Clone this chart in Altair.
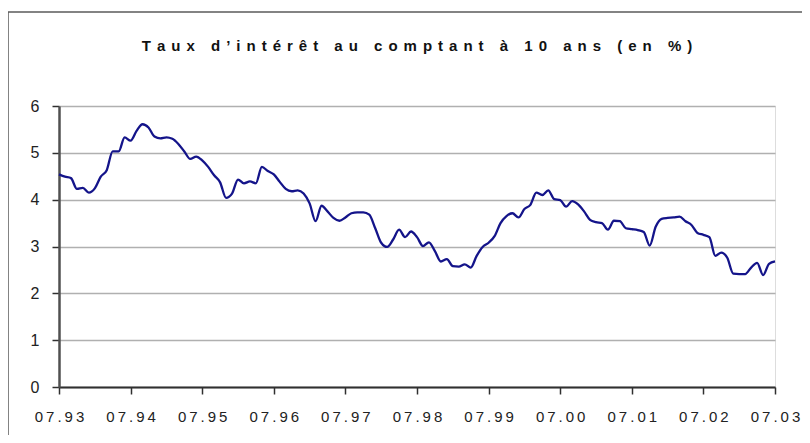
import altair as alt
import pandas as pd

# Monthly 10-year spot rate, July 1993 .. July 2003 (121 months)
values = [
    4.54, 4.49, 4.46, 4.23, 4.25, 4.15, 4.24, 4.49, 4.63, 5.03, 5.03, 5.33,
    5.26, 5.47, 5.61, 5.54, 5.35, 5.31, 5.33, 5.30, 5.19, 5.03, 4.87, 4.92,
    4.84, 4.70, 4.52, 4.37, 4.04, 4.13, 4.43, 4.35, 4.39, 4.35, 4.70, 4.61,
    4.54, 4.38, 4.23, 4.18, 4.20, 4.13, 3.92, 3.54, 3.87, 3.75, 3.61, 3.55,
    3.62, 3.71, 3.73, 3.73, 3.68, 3.39, 3.08, 2.99, 3.15, 3.36, 3.20, 3.32,
    3.20, 3.01, 3.09, 2.90, 2.68, 2.73, 2.58, 2.57, 2.62, 2.55, 2.80, 2.99,
    3.08, 3.22, 3.50, 3.65, 3.71, 3.62, 3.80, 3.89, 4.15, 4.10, 4.20, 4.01,
    3.99, 3.85, 3.97, 3.90, 3.75, 3.57, 3.52, 3.50, 3.36, 3.55, 3.54, 3.39,
    3.37, 3.35, 3.31, 3.02, 3.42, 3.59, 3.61, 3.62, 3.64, 3.54, 3.46, 3.29,
    3.25, 3.20, 2.80, 2.87, 2.76, 2.42, 2.41, 2.41, 2.55, 2.65, 2.39, 2.63,
    2.68,
]
months = list(range(len(values)))
tick_labels = ["07.93", "07.94", "07.95", "07.96", "07.97", "07.98",
               "07.99", "07.00", "07.01", "07.02", "07.03"]
y_ticks = [0, 1, 2, 3, 4, 5, 6]
title_text = "Taux d\u2019intérêt au comptant à 10 ans (en %)"

FONT = "Liberation Sans, Arial, sans-serif"


def spaced(s, sp):
    return sp.join("\u00a0" if c == " " else c for c in s)


label_arr = "[" + ",".join("'" + spaced(t, "\u2009") + "'" for t in tick_labels) + "]"
label_expr = label_arr + "[round(datum.value / 12)]"

df = pd.DataFrame({"m": months, "v": values})

W, H = 716, 281

line = alt.Chart(df).mark_line(
    color="#14148a", strokeWidth=2.3, interpolate="monotone"
).encode(
    x=alt.X("m:Q", scale=alt.Scale(domain=[0, 120], nice=False, zero=False),
            axis=alt.Axis(values=[i * 12 for i in range(11)], labelExpr=label_expr,
                          title=None, grid=False, domainColor="#303030",
                          domainWidth=2, tickColor="#303030", tickWidth=1.5,
                          tickSize=7, labelPadding=15, labelFont=FONT,
                          labelFontSize=15, labelColor="#222222",
                          labelOverlap=False, labelFlush=False)),
    y=alt.Y("v:Q", scale=alt.Scale(domain=[0, 6], nice=False),
            axis=alt.Axis(values=y_ticks, title=None, grid=True,
                          gridColor="#b0b0b0", gridWidth=1.5,
                          domainColor="#505050", domainWidth=2.5,
                          tickColor="#303030", tickWidth=1.5, tickSize=7,
                          labelPadding=13, labelFont=FONT, labelFontSize=16,
                          labelColor="#222222")),
)

frame_df = pd.DataFrame({"a": [0]})
frame_left = alt.Chart(frame_df).mark_rule(color="#5a5a5a", strokeWidth=1.5).encode(
    x=alt.value(-51), y=alt.value(-94), y2=alt.value(329))
frame_top = alt.Chart(frame_df).mark_rule(color="#5a5a5a", strokeWidth=1.5).encode(
    x=alt.value(-51), x2=alt.value(743), y=alt.value(-94))
title = alt.Chart(frame_df).mark_text(
    font=FONT, fontSize=15, fontWeight="bold", color="#111111",
    align="center", baseline="alphabetic"
).encode(x=alt.value(W / 2), y=alt.value(-55),
         text=alt.value(spaced(title_text, "\u2009\u2009")))

chart = alt.layer(frame_left, frame_top, title, line).properties(
    width=W, height=H,
    autosize=alt.AutoSizeParams(type="none"),
    padding={"left": 51, "top": 98, "right": 27, "bottom": 48},
).configure_view(
    stroke="#888888", strokeWidth=3
).configure(background="white")

chart.save("out.html", embed_options={"renderer": "svg", "actions": False})
